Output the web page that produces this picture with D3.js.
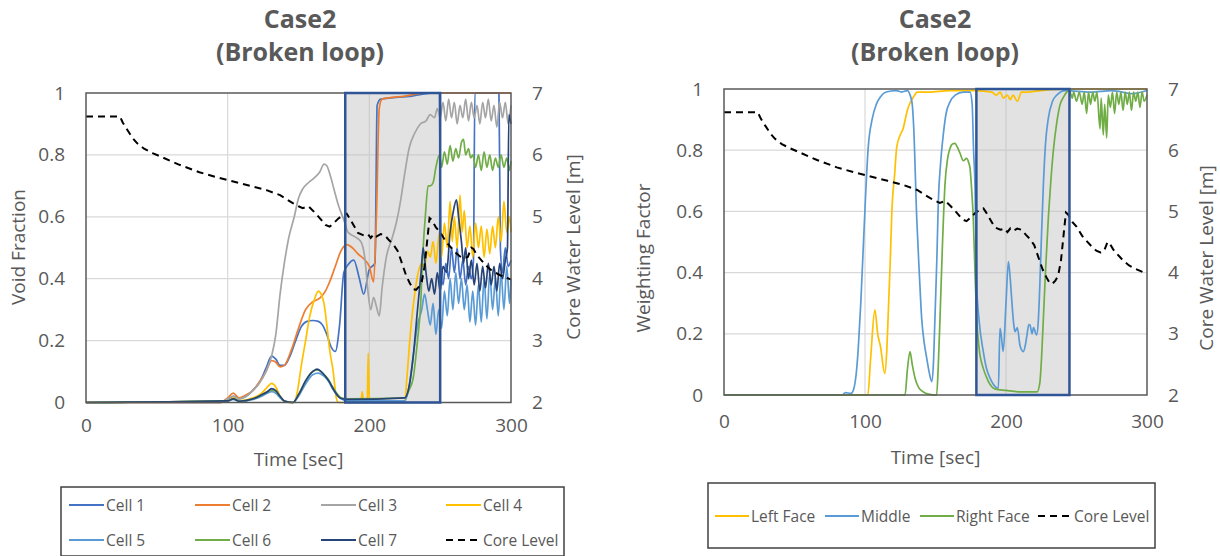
<!DOCTYPE html>
<html>
<head>
<meta charset="utf-8">
<script src="https://cdn.jsdelivr.net/npm/d3@7"></script>
<style>
    body { margin: 0; background: #fff; }
    svg { display: block; font-family: "Open Sans", sans-serif; }
    .tick text { fill: #595959; font-size: 19px; }
</style>
</head>
<body>
<svg id="chart" width="1220" height="556"></svg>
<script>
// ---- data ----
const timeTicks = [0, 100, 200, 300];
const fracTicks = [0, 0.2, 0.4, 0.6, 0.8, 1];
const levelTicks = [2, 3, 4, 5, 6, 7];

const cell1 = [[0,0],[95,0],[100,0.01],[104,0.02],[108,0.012],[113,0.02],[118,0.04],[123,0.07],[127,0.11],[131,0.15],[134,0.14],[137,0.12],[140,0.12],[144,0.15],[148,0.2],[152,0.245],[156,0.262],[160,0.265],[164,0.262],[167,0.25],[170,0.22],[173,0.18],[176,0.165],[179,0.25],[182,0.42],[185,0.445],[189,0.46],[193,0.40],[196,0.35],[200,0.43],[204,0.45],[205.5,0.96],[208,0.98],[230,0.99],[245,1.0],[249.5,1.0],[250.5,0.45],[252,0.38],[254,0.45],[256,0.4],[258,0.5],[260,0.42],[262,0.5],[264,0.4],[266,0.46],[268,0.38],[270,0.44],[272,0.4],[273.5,0.46],[274.5,1.0],[291.5,1.0],[292.5,0.5],[294,0.42],[296,0.5],[298,0.44],[300,0.46]];
const cell2 = [[0,0],[95,0],[100,0.015],[104,0.03],[108,0.015],[113,0.025],[118,0.04],[123,0.07],[127,0.1],[131,0.135],[134,0.13],[137,0.115],[140,0.12],[145,0.17],[150,0.24],[155,0.3],[160,0.325],[165,0.337],[169,0.36],[172,0.39],[176,0.44],[180,0.49],[184,0.51],[188,0.5],[192,0.48],[197,0.46],[200,0.44],[203,0.39],[205,0.6],[207,0.95],[209,0.98],[225,0.99],[240,1.0],[300,1.0]];
const cell3 = [[0,0],[95,0],[100,0.012],[104,0.02],[108,0.012],[113,0.02],[118,0.04],[122,0.06],[127,0.1],[131,0.15],[134,0.22],[137,0.35],[140,0.45],[143,0.53],[147,0.6],[150,0.66],[153,0.69],[157,0.71],[161,0.725],[165,0.745],[168,0.77],[170,0.765],[172,0.74],[175,0.69],[178,0.64],[182,0.59],[185,0.55],[190,0.535],[194,0.52],[197,0.46],[199,0.36],[201,0.30],[203,0.34],[205,0.31],[207,0.28],[209,0.37],[212,0.47],[216,0.53],[219,0.58],[222,0.65],[225,0.74],[228,0.82],[232,0.87],[236,0.9],[240,0.91],[243,0.93],[246,0.92],[248,0.95],[250,0.92],[252,0.97],[254,0.91],[256,0.98],[258,0.92],[260,0.97],[262,0.90],[264,0.96],[266,0.92],[268,0.98],[270,0.91],[272,0.97],[274,0.92],[276,0.96],[278,0.90],[280,0.97],[282,0.92],[284,0.98],[286,0.91],[288,0.96],[290,0.89],[292,0.97],[294,0.92],[296,0.97],[298,0.90],[300,0.96]];
const cell4 = [[0,0],[100,0.005],[104,0.015],[108,0.005],[118,0.015],[124,0.03],[128,0.05],[131,0.062],[134,0.05],[137,0.02],[140,0.003],[147,0],[149,0.03],[152,0.12],[155,0.2],[158,0.28],[161,0.33],[164,0.36],[166,0.35],[168,0.32],[170,0.25],[172,0.17],[174.5,0.1],[176.5,0.02],[178,0],[194,0],[195,0.035],[196,0],[198.5,0],[199.2,0.16],[200,0.01],[201,0],[225,0],[226.5,0.08],[229.5,0.25],[232,0.35],[234.5,0.42],[237,0.45],[239,0.44],[241,0.49],[243,0.47],[245,0.52],[247,0.45],[249.5,0.55],[251,0.47],[253,0.58],[255,0.5],[257,0.65],[258.5,0.52],[260,0.6],[262,0.5],[264,0.67],[265.5,0.55],[267,0.62],[269,0.5],[271,0.57],[273,0.47],[275,0.58],[277,0.5],[279,0.57],[281,0.47],[283,0.56],[285,0.48],[287,0.57],[289,0.5],[291,0.6],[293,0.52],[295,0.65],[297,0.55],[299,0.6],[300,0.55]];
const cell5 = [[0,0],[100,0.005],[104,0.01],[108,0.004],[118,0.01],[124,0.02],[128,0.03],[131,0.035],[134,0.03],[137,0.015],[140,0.005],[146,0],[150,0.02],[155,0.06],[160,0.09],[164,0.095],[168,0.085],[171,0.07],[174,0.045],[177,0.025],[180,0.012],[185,0.005],[225,0.005],[228,0.05],[231,0.15],[234,0.25],[237,0.3],[239,0.35],[241,0.3],[243,0.25],[245,0.32],[247,0.22],[249,0.3],[251,0.24],[253,0.36],[255,0.28],[257,0.4],[259,0.3],[261,0.42],[263,0.32],[265,0.4],[267,0.3],[269,0.38],[271,0.26],[273,0.36],[275,0.25],[277,0.38],[279,0.26],[281,0.4],[283,0.27],[285,0.42],[287,0.3],[289,0.4],[291,0.28],[293,0.42],[295,0.3],[297,0.44],[299,0.32],[300,0.4]];
const cell6 = [[0,0],[100,0.005],[104,0.012],[108,0.004],[118,0.012],[124,0.025],[128,0.035],[131,0.04],[134,0.035],[137,0.02],[140,0.005],[146,0],[150,0.025],[155,0.07],[160,0.1],[164,0.105],[168,0.09],[171,0.075],[174,0.05],[177,0.03],[180,0.015],[185,0.012],[225,0.015],[228,0.04],[231,0.08],[234,0.2],[236,0.3],[238,0.5],[239.5,0.6],[241.5,0.7],[243,0.7],[245,0.71],[247,0.76],[249.5,0.8],[251,0.76],[253,0.81],[255,0.77],[257,0.83],[259,0.78],[261,0.82],[263,0.79],[265,0.84],[266.5,0.85],[268,0.8],[270,0.82],[271.5,0.79],[273,0.8],[275,0.76],[277,0.8],[279,0.75],[281,0.81],[283,0.76],[285,0.8],[287,0.75],[289,0.79],[291,0.76],[293,0.8],[295,0.76],[297,0.79],[299,0.75],[300,0.78]];
const cell7 = [[0,0],[100,0.005],[104,0.012],[108,0.004],[118,0.012],[124,0.025],[128,0.035],[131,0.045],[134,0.038],[137,0.02],[140,0.005],[146,0],[150,0.025],[155,0.07],[160,0.1],[163,0.108],[166,0.1],[169,0.085],[172,0.065],[175,0.04],[178,0.02],[181,0.012],[185,0.01],[225,0.015],[228,0.05],[231,0.15],[234,0.3],[236.5,0.42],[238,0.5],[240,0.42],[242,0.36],[244,0.4],[246,0.35],[248,0.42],[250,0.36],[252,0.44],[254.5,0.42],[257,0.55],[259,0.61],[261.5,0.655],[263,0.6],[265,0.52],[266.5,0.45],[268,0.5],[270,0.4],[272,0.46],[274,0.38],[276,0.45],[278,0.36],[280,0.44],[282,0.37],[284,0.45],[286,0.38],[288,0.44],[290,0.36],[292,0.45],[294,0.4],[296,0.46],[297.5,0.5],[298.5,0.93],[300,0.9]];

// core water level [m], secondary axis, same run on both panels
const coreLevel = [[0,6.62],[24,6.62],[26,6.52],[29,6.41],[33,6.27],[36,6.19],[41,6.1],[47,6.03],[55,5.95],[66,5.84],[80,5.72],[92,5.64],[104,5.57],[116,5.5],[127.5,5.43],[137,5.35],[146,5.22],[150,5.17],[153,5.14],[157,5.17],[161,5.08],[165,4.98],[169,4.87],[172,4.84],[175,4.9],[178,4.97],[182,5.04],[184,5.05],[186,4.98],[189,4.86],[192,4.74],[196,4.7],[199,4.72],[201,4.66],[203,4.72],[205,4.68],[208,4.72],[211,4.7],[214,4.62],[217,4.55],[220,4.45],[223,4.25],[226,4.05],[228.5,3.93],[231,3.83],[233,3.82],[235,3.87],[237,3.95],[239,4.2],[241,4.65],[242.5,4.98],[244,4.95],[247,4.83],[250,4.75],[254,4.6],[257,4.52],[261,4.42],[264,4.36],[267,4.33],[269.5,4.35],[272,4.5],[273.5,4.48],[276,4.38],[279,4.3],[283,4.2],[287,4.12],[292,4.06],[297,4.01],[300,3.99]];

const leftFace = [[0,0],[102,0],[104,0.12],[107,0.278],[109,0.2],[111,0.158],[114,0.07],[115.5,0.15],[116.5,0.267],[118,0.45],[119,0.594],[121,0.72],[122.5,0.81],[125,0.85],[127,0.87],[130,0.93],[132,0.955],[134.5,0.975],[137,0.99],[145,0.99],[160,0.995],[178,0.995],[190,0.99],[193,0.98],[196,0.99],[198,0.97],[201,0.98],[203,0.965],[205,0.98],[208,0.96],[211,0.99],[215,0.99],[225,0.995],[245,1.0],[300,1.0]];
const middle = [[0,0],[84,0],[86,0.008],[90,0.005],[92,0.02],[94,0.08],[95.3,0.158],[97,0.3],[98.8,0.485],[100.5,0.66],[102.3,0.81],[105,0.9],[108.3,0.953],[111,0.975],[115,0.99],[122,0.995],[126,0.99],[130,0.995],[132,0.98],[133.5,0.95],[134.5,0.88],[136.7,0.577],[138.5,0.4],[140.2,0.25],[142,0.17],[143.8,0.12],[145.5,0.075],[147.3,0.044],[148.5,0.1],[149.6,0.25],[151,0.45],[152,0.632],[153.5,0.75],[155.5,0.85],[157.5,0.92],[160.3,0.958],[164,0.98],[169.7,0.99],[174.5,0.99],[176,0.95],[177,0.8],[178,0.686],[179.2,0.36],[181,0.24],[183.9,0.142],[186,0.09],[188.7,0.055],[191,0.035],[194.6,0.022],[195.7,0.218],[196.5,0.2],[198,0.142],[200,0.3],[201.7,0.436],[203,0.38],[204,0.316],[205.5,0.23],[206.4,0.207],[208,0.22],[210,0.16],[212.3,0.142],[214,0.17],[215,0.2],[216.2,0.23],[217,0.229],[218.5,0.2],[219.5,0.22],[221.7,0.196],[223,0.25],[224,0.36],[225,0.5],[226.5,0.686],[228,0.82],[230,0.904],[233,0.96],[236,0.98],[242,0.995],[260,0.99],[275,0.995],[290,0.985],[300,0.995]];
const rightFace = [[0,0],[128.4,0],[130,0.08],[131.9,0.142],[133.5,0.1],[135.5,0.055],[138,0.025],[141.4,0.01],[145,0.003],[150.8,0],[152,0.1],[153.2,0.25],[155,0.5],[156.7,0.686],[158.5,0.77],[160.3,0.806],[162,0.82],[163.8,0.822],[165.5,0.81],[167.4,0.79],[169.7,0.766],[172.1,0.773],[173.5,0.76],[174.5,0.741],[175.8,0.66],[176.8,0.577],[178,0.4],[179.2,0.25],[181,0.15],[183.9,0.087],[186,0.06],[188.6,0.035],[192,0.02],[200,0.015],[210,0.01],[222,0.01],[224,0.04],[225.2,0.12],[226.5,0.25],[228.2,0.42],[230,0.577],[231.8,0.7],[233.5,0.795],[236,0.89],[238.3,0.948],[241,0.975],[243,0.99],[245,0.995],[247,0.97],[248,0.99],[250,0.96],[252,0.99],[254,0.95],[255.5,0.99],[257.2,0.92],[258.5,0.99],[260,0.95],[261.5,0.99],[263,0.96],[264.5,0.99],[266.7,0.87],[267.5,0.97],[269,0.85],[270,0.95],[271.4,0.84],[272.5,0.98],[274,0.94],[275.5,0.99],[277,0.92],[278.5,0.99],[280,0.95],[281.5,0.99],[283,0.93],[284.5,0.99],[286,0.95],[287.5,0.99],[289,0.93],[290.5,0.99],[292,0.96],[293.5,0.99],[295,0.94],[296.5,0.99],[298,0.96],[300,0.98]];

const cellNames = ["Cell 1", "Cell 2", "Cell 3", "Cell 4", "Cell 5", "Cell 6", "Cell 7"];
const cellColors = ["#4472C4", "#ED7D31", "#A5A5A5", "#FFC000", "#5B9BD5", "#70AD47", "#264478"];
const cellSeries = [cell1, cell2, cell3, cell4, cell5, cell6, cell7];

const faceNames = ["Left Face", "Middle", "Right Face"];
const faceColors = ["#FFC000", "#5B9BD5", "#70AD47"];
const faceSeries = [leftFace, middle, rightFace];

// highlighted time windows [start, end] in sec
const leftWindows = [[183, 250]];
const rightWindows = [[179, 245]];

const svg = d3.select("#chart");

function drawPanel(p) {
    const x = d3.scaleLinear().domain([0, 300]).range([p.left, p.right]);
    const y = d3.scaleLinear().domain([0, 1]).range([p.bottom, p.top]);
    const yR = d3.scaleLinear().domain([2, 7]).range([p.bottom, p.top]);
    const g = svg.append("g");

    // grid
    g.selectAll(".hgrid").data(fracTicks.slice(1, -1)).join("line")
        .attr("x1", p.left).attr("x2", p.right)
        .attr("y1", d => y(d)).attr("y2", d => y(d))
        .attr("stroke", "#d9d9d9").attr("stroke-width", 1.2);
    g.selectAll(".vgrid").data(timeTicks.slice(1, -1)).join("line")
        .attr("x1", d => x(d)).attr("x2", d => x(d))
        .attr("y1", p.top).attr("y2", p.bottom)
        .attr("stroke", "#d9d9d9").attr("stroke-width", 1.2);

    // shaded windows
    g.selectAll(".win").data(p.windows).join("rect")
        .attr("x", d => x(d[0])).attr("width", d => x(d[1]) - x(d[0]))
        .attr("y", y(1)).attr("height", y(0) - y(1))
        .attr("fill", "#bfbfbf").attr("fill-opacity", 0.45);

    const line = d3.line().x(d => x(d[0])).y(d => y(d[1])).curve(d3.curveMonotoneX);
    p.series.forEach((s, i) => {
        g.append("path").datum(s)
            .attr("d", line)
            .attr("fill", "none")
            .attr("stroke", p.colors[i])
            .attr("stroke-width", 1.7)
            .attr("stroke-linejoin", "round");
    });

    const levelLine = d3.line().x(d => x(d[0])).y(d => yR(d[1]));
    g.append("path").datum(coreLevel)
        .attr("d", levelLine)
        .attr("fill", "none")
        .attr("stroke", "#000")
        .attr("stroke-width", 2)
        .attr("stroke-dasharray", "7,5");

    // frame
    g.append("rect")
        .attr("x", p.left).attr("y", p.top)
        .attr("width", p.right - p.left).attr("height", p.bottom - p.top)
        .attr("fill", "none").attr("stroke", "#595959").attr("stroke-width", 1.5);

    g.selectAll(".winbox").data(p.windows).join("rect")
        .attr("x", d => x(d[0])).attr("width", d => x(d[1]) - x(d[0]))
        .attr("y", y(1)).attr("height", y(0) - y(1))
        .attr("fill", "none").attr("stroke", "#2F5597").attr("stroke-width", 2.5);

    // axes
    const yAxis = d3.axisLeft(y).tickValues(fracTicks).tickFormat(d3.format("~g"))
        .tickSize(0).tickPadding(21);
    g.append("g").attr("transform", "translate(" + p.left + ",0)").call(yAxis)
        .call(a => a.select(".domain").remove());
    const rAxis = d3.axisRight(yR).tickValues(levelTicks).tickFormat(d3.format("~g"))
        .tickSize(0).tickPadding(21);
    g.append("g").attr("transform", "translate(" + p.right + ",0)").call(rAxis)
        .call(a => a.select(".domain").remove());
    const xAxis = d3.axisBottom(x).tickValues(timeTicks).tickSize(0).tickPadding(p.xPad);
    g.append("g").attr("transform", "translate(0," + p.bottom + ")").call(xAxis)
        .call(a => a.select(".domain").remove());
    g.selectAll(".tick text").attr("font-family", "Open Sans");

    // titles
    const title = g.append("text").attr("text-anchor", "middle")
        .attr("fill", "#595959").attr("font-weight", "bold").attr("font-size", 25);
    title.append("tspan").attr("x", p.cx).attr("y", 28).text("Case2");
    title.append("tspan").attr("x", p.cx).attr("y", 61).text("(Broken loop)");

    g.append("text").attr("text-anchor", "middle").attr("fill", "#595959")
        .attr("font-size", 19)
        .attr("transform", "translate(" + p.yTitleX + "," + p.yTitleY + ") rotate(-90)")
        .text(p.yTitle);
    g.append("text").attr("text-anchor", "middle").attr("fill", "#595959")
        .attr("font-size", 19)
        .attr("transform", "translate(" + p.rTitleX + "," + p.yTitleY + ") rotate(-90)")
        .text("Core Water Level [m]");
    g.append("text").attr("text-anchor", "middle").attr("fill", "#595959")
        .attr("font-size", 19)
        .attr("x", (p.left + p.right) / 2).attr("y", p.xTitleY)
        .text("Time [sec]");

    // legend
    const lg = p.legend;
    g.append("rect").attr("x", lg.x0).attr("y", lg.y0)
        .attr("width", lg.x1 - lg.x0).attr("height", lg.y1 - lg.y0)
        .attr("fill", "#fff").attr("stroke", "#404040").attr("stroke-width", 1.5);
    const items = p.names.map((n, i) => ({name: n, color: p.colors[i], dash: null}))
        .concat([{name: "Core Level", color: "#000", dash: "7,5"}]);
    items.forEach((it, i) => {
        const lx = lg.cols[i % lg.cols.length];
        const ly = lg.rows[Math.floor(i / lg.cols.length)];
        g.append("line").attr("x1", lx).attr("x2", lx + lg.len)
            .attr("y1", ly).attr("y2", ly)
            .attr("stroke", it.color).attr("stroke-width", it.dash ? 2 : 2.2)
            .attr("stroke-dasharray", it.dash);
        g.append("text").attr("x", lx + lg.len + 2).attr("y", ly + 5.5)
            .attr("fill", "#595959").attr("font-size", 15.5)
            .text(it.name);
    });
}

drawPanel({
    left: 86, right: 511, top: 93, bottom: 402.5, cx: 300, xPad: 16,
    yTitle: "Void Fraction", yTitleX: 25, yTitleY: 247, rTitleX: 580, xTitleY: 466,
    series: cellSeries, colors: cellColors, names: cellNames, windows: leftWindows,
    legend: {x0: 61, x1: 564, y0: 487, y1: 556, cols: [69, 195, 321, 446], rows: [505, 540], len: 35}
});
drawPanel({
    left: 724, right: 1147, top: 89, bottom: 395, cx: 935, xPad: 20,
    yTitle: "Weighting Factor", yTitleX: 650, yTitleY: 258, rTitleX: 1213, xTitleY: 464,
    series: faceSeries, colors: faceColors, names: faceNames, windows: rightWindows,
    legend: {x0: 708, x1: 1155, y0: 483, y1: 548, cols: [715, 825, 920, 1038], rows: [516], len: 34}
});
</script>
</body>
</html>
